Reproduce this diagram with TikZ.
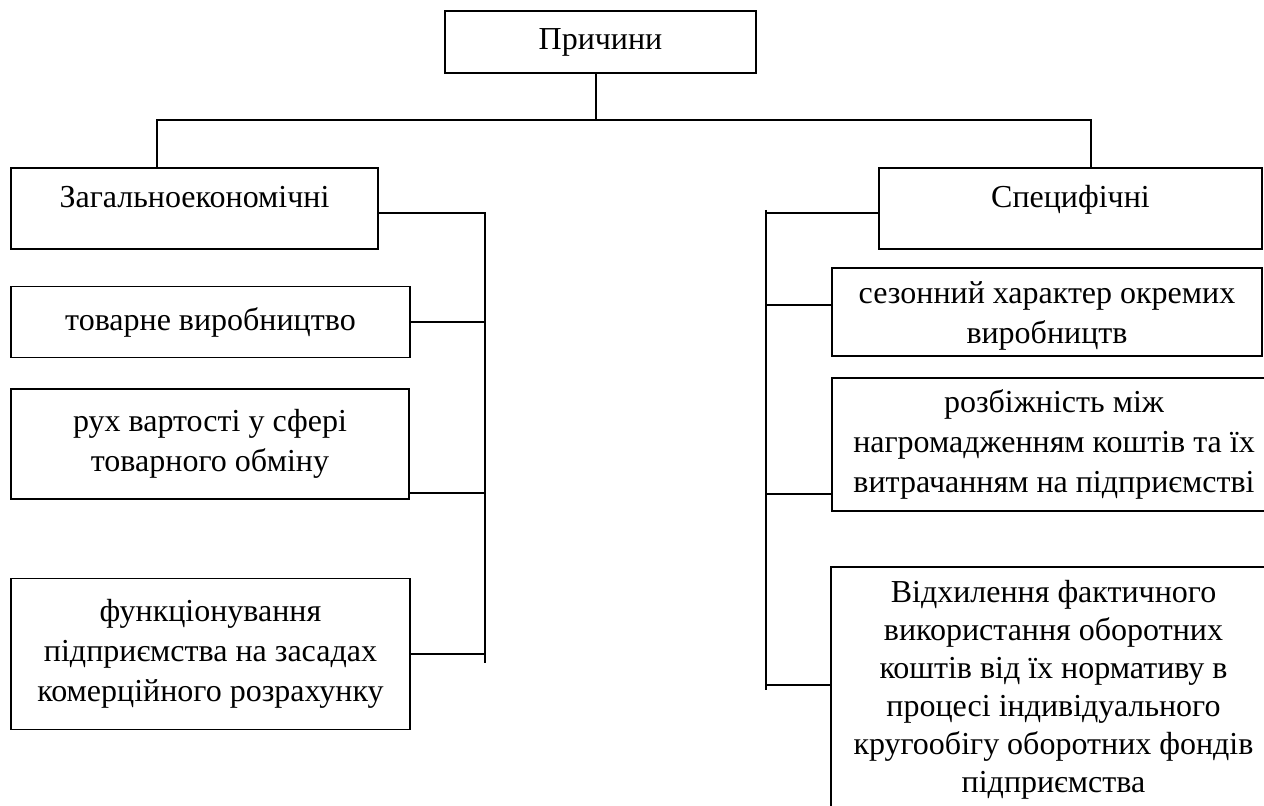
\documentclass[tikz,border=0pt]{standalone}
\usepackage{fontspec}
\setmainfont{Liberation Serif}
\usepackage{tikz}
\usetikzlibrary{positioning, calc}

\begin{document}
\begin{tikzpicture}[x=0.5pt, y=-0.5pt,
  box/.style={draw, line width=0.9pt, align=center, inner sep=0pt,
    font=\fontsize{16}{20}\selectfont},
  hdrbox/.style={box, text height=20pt, text depth=20.5pt},
  wire/.style={line width=0.9pt}]
  \useasboundingbox (0,0) rectangle (1264,806);
  \clip (0,0) rectangle (1264,806);

  % top
  \node[box, minimum width=155.5pt, minimum height=31pt] (prich) at (600.5,42) {Причини};
  \coordinate (top) at (596,120);
  \coordinate (lt) at (157,120);
  \coordinate (rt) at (1091,120);

  % left branch
  \node[hdrbox, minimum width=183.5pt] (zag) at (194.5,208.5) {Загальноекономічні};
  \node[box, minimum width=199.5pt, minimum height=35.5pt] (tov) at (210.5,322) {товарне виробництво};
  \node[box, minimum width=199pt, minimum height=55pt] (rukh) at (210,444)
    {рух вартості у сфері\\товарного обміну};
  \node[box, minimum width=199.5pt, minimum height=75.5pt] (func) at (210.5,654)
    {функціонування\\підприємства на засадах\\комерційного розрахунку};

  % right branch
  \node[hdrbox, minimum width=191.5pt] (spec) at (1070.5,208.5) {Специфічні};
  \node[box, minimum width=215pt, minimum height=44pt] (sez) at (1047,312)
    {\rule{0pt}{15pt}сезонний характер окремих\\виробництв};
  \node[box, minimum width=222pt, minimum height=66.5pt] (rozb) at (1054,444.5)
    {розбіжність між\\нагромадженням коштів та їх\\витрачанням на підприємстві};
  \node[box, minimum width=222.5pt, minimum height=123pt, font=\fontsize{16}{19}\selectfont] (vidkh) at (1053.5,690)
    {Відхилення фактичного\\використання оборотних\\коштів від їх нормативу в\\процесі індивідуального\\кругообігу оборотних фондів\\підприємства};

  % tree lines
  \draw[wire] (prich.south -| top) -- (top);
  \draw[wire] (lt |- zag.north) -- (lt) -- (rt) -- (rt |- spec.north);

  \coordinate (lbus) at (485,663);
  \draw[wire] ([yshift=-2.25pt]zag.east) -| (lbus);
  \draw[wire] (tov.east) -- (tov.east -| lbus);
  \draw[wire] ([yshift=3.5pt]rukh.south east) -- ([yshift=3.5pt]rukh.south east -| lbus);
  \draw[wire] (func.east) -- (func.east -| lbus);

  \coordinate (rbus) at (766,690);
  \draw[wire] (rbus |- 0,210) -- (rbus);
  \draw[wire] ([yshift=-2.25pt]spec.west) -- ([yshift=-2.25pt]spec.west -| rbus);
  \draw[wire] ([yshift=3.5pt]sez.west) -- ([yshift=3.5pt]sez.west -| rbus);
  \draw[wire] ([yshift=9pt]rozb.south west) -- ([yshift=9pt]rozb.south west -| rbus);
  \draw[wire] ([yshift=2.5pt]vidkh.west) -- ([yshift=2.5pt]vidkh.west -| rbus);
\end{tikzpicture}
\end{document}
